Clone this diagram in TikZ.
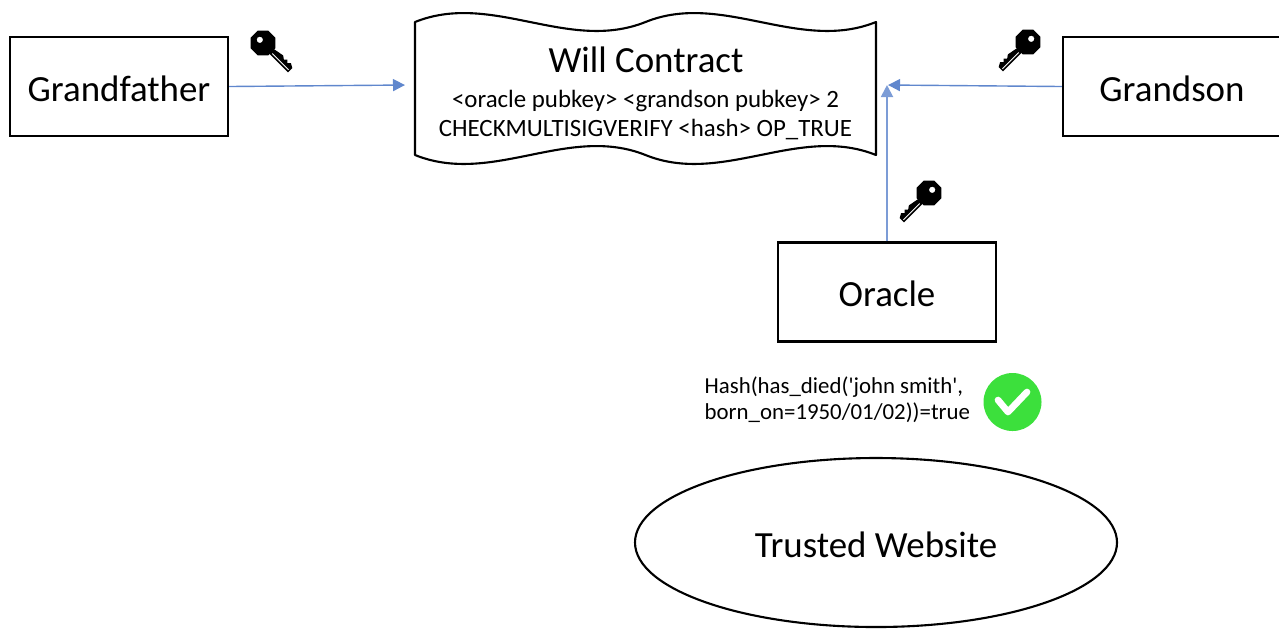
\documentclass[tikz,border=0pt]{standalone}
\usepackage{fontspec}
\setmainfont{Carlito}
\usetikzlibrary{positioning, shapes, arrows.meta}
\definecolor{linkblue}{HTML}{4472C4}
\definecolor{tickgreen}{HTML}{3CE03C}
\tikzset{
  party/.style={draw,line width=.6pt,minimum width=2.18cm,minimum height=.99cm,inner sep=0pt,text height=.3cm,font=\fontsize{10.5}{12}\selectfont},
  link/.style={linkblue!85,line width=.4pt,-{Triangle[length=.12cm,width=.12cm]}},
  keyicon/.pic={
    \fill[even odd rule] (.125,.05) -- (.05,.125) -- (-.05,.125) -- (-.125,.05) -- (-.125,-.05) -- (-.05,-.125) -- (.05,-.125) -- (.125,-.05) -- cycle
      (-.045,0) circle (.032);
    \fill (.1,-.03) -- (.385,-.03) -- (.385,.03) -- (.34,.055) -- (.315,.03) -- (.29,.055) -- (.265,.03) -- (.23,.055) -- (.1,.03) -- cycle;
    \draw[white,line width=.25pt] (.14,-.008) -- (.37,-.008);
  }
}
\begin{document}
\begin{tikzpicture}[x=1cm,y=1cm]

\useasboundingbox (0,0) rectangle (12.79,-6.28);

\node[party] (grandfather) at (1.19,-.865) {Grandfather};
\node[party] (grandson) at (11.72,-.865) {Grandson};
\node[party] (oracle) at (8.87,-2.92) {Oracle};

\draw[line width=.6pt,line join=round] (4.15,-.22)
  .. controls (4.92,.09) and (5.68,-.53) .. (6.455,-.22)
  .. controls (7.22,.09) and (7.99,-.53) .. (8.76,-.22)
  -- (8.76,-1.55)
  .. controls (7.99,-1.24) and (7.22,-1.86) .. (6.455,-1.55)
  .. controls (5.68,-1.24) and (4.92,-1.86) .. (4.15,-1.55)
  -- cycle;

\node[font=\fontsize{10.5}{12}\selectfont] (willtitle) at (6.46,-.6) {Will Contract};
\node[align=center,inner sep=0pt,font=\fontsize{7.08}{8.25}\selectfont] (willscript) at (6.455,-1.15) {<oracle pubkey> <grandson pubkey> 2\\ CHECKMULTISIGVERIFY <hash> OP\_TRUE};

\coordinate (willleft) at (4.05,-.85);
\coordinate (willright) at (8.88,-.85);

\draw[link] (grandfather.east) -- (willleft);
\draw[link] (grandson.west) -- (willright);
\draw[link,linkblue!70,line width=.55pt] (oracle.north) -- (8.87,-.85);

\pic[rotate=-45] at (2.63,-.43) {keyicon};
\pic[rotate=-135,yscale=-1] at (10.28,-.42) {keyicon};
\pic[rotate=-135,yscale=-1] at (9.29,-1.93) {keyicon};

\node[align=left,inner sep=0pt,anchor=west,font=\fontsize{6.5}{7.4}\selectfont] (hashtext) at (7.04,-4) {Hash(has\_died(\textquotesingle john smith\textquotesingle,\\ born\_on=1950/01/02))=true};

\node[circle,fill=tickgreen,minimum size=.58cm,inner sep=0pt] (tick) at (10.125,-4.02) {};
\draw[white,line width=1.9pt,line cap=round,line join=round] (9.98,-4.0) -- (10.08,-4.12) -- (10.27,-3.92);

\node[draw,ellipse,line width=.6pt,minimum width=4.82cm,minimum height=1.69cm,inner sep=0pt,text height=.3cm,font=\fontsize{10.5}{12}\selectfont] (website) at (8.76,-5.425) {Trusted Website};

\end{tikzpicture}
\end{document}
